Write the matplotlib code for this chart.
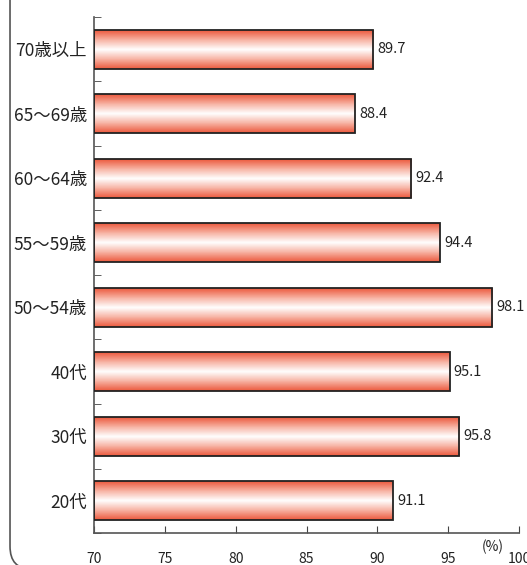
import numpy as np
import matplotlib
matplotlib.use('Agg')
import matplotlib.pyplot as plt
from matplotlib.colors import LinearSegmentedColormap
from matplotlib.patches import FancyBboxPatch

plt.rcParams['font.family'] = ['Noto Sans CJK JP', 'DejaVu Sans']

# data (top to bottom)
categories = ['70歳以上', '65～69歳', '60～64歳', '55～59歳', '50～54歳', '40代', '30代', '20代']
values = [89.7, 88.4, 92.4, 94.4, 98.1, 95.1, 95.8, 91.1]
xticks = [70, 75, 80, 85, 90, 95, 100]

fig = plt.figure(figsize=(5.27, 5.65), dpi=100)
ax = fig.add_axes([0.1784, 0.0566, 0.8064, 0.9134])

# rounded frame round the whole chart (bottom edge falls just off the picture)
frame = FancyBboxPatch((0.019, -0.007), 1.2, 1.05, boxstyle='round,pad=0,rounding_size=0.04',
                       transform=fig.transFigure, fill=False, edgecolor='#555555', lw=1.2,
                       clip_on=False)
fig.patches.append(frame)

cmap = LinearSegmentedColormap.from_list('rw', ['#ec5a3e', '#f7b3a4', '#ffffff', '#f7b3a4', '#ec5a3e'])
grad = np.linspace(0, 1, 64).reshape(-1, 1)

n = len(categories)
ypos = np.arange(n)[::-1]
h = 0.6
for y, v in zip(ypos, values):
    ax.imshow(grad, extent=[70, v, y - h / 2, y + h / 2], aspect='auto', cmap=cmap,
              origin='lower', zorder=2, interpolation='bilinear')
ax.barh(ypos, np.array(values) - 70, left=70, height=h, fill=False,
        edgecolor='#222222', lw=1.3, zorder=3)

for y, v in zip(ypos, values):
    ax.text(v + 0.3, y, f'{v:.1f}', va='center', ha='left', fontsize=10.5, color='#222222')

ax.set_xlim(70, 100)
ax.set_ylim(-0.5, n - 0.5)
ax.set_xticks(xticks)
ax.set_xticklabels([str(t) for t in xticks], fontsize=10, color='#222222')
ax.set_yticks(ypos)
ax.set_yticklabels(categories, fontsize=12.5, color='#222222')
ax.set_yticks(np.arange(n + 1) - 0.5, minor=True)
ax.tick_params(axis='y', which='major', length=0, pad=5)
ax.tick_params(axis='y', which='minor', direction='in', length=5, color='#444444')
ax.tick_params(axis='x', direction='in', length=5, color='#444444', pad=14)

for s in ['top', 'right']:
    ax.spines[s].set_visible(False)
for s in ['left', 'bottom']:
    ax.spines[s].set_color('#555555')
    ax.spines[s].set_linewidth(1.2)

ax.text(97.4, -0.72, '(%)', fontsize=10, color='#222222', ha='left', va='center')

fig.savefig('out.png', dpi=100)
